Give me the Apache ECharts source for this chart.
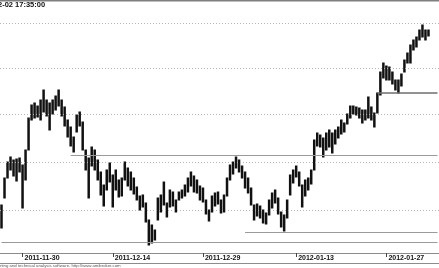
<!DOCTYPE html>
<html><head><meta charset="utf-8">
<script src="https://cdn.jsdelivr.net/npm/echarts@6/dist/echarts.min.js"></script>
<style>html,body{margin:0;padding:0;background:#fff;overflow:hidden}#c{width:439px;height:268px}</style>
</head><body><div id="c"></div>
<script>
const highs = [1039,1066,1082,1087,1084,1085,1086,1079,1094,1126,
1139,1141,1138,1144,1154,1144,1141,1144,1148,1154,
1144,1137,1124,1117,1107,1129,1132,1122,1094,1086,
1097,1094,1084,1072,1059,1074,1081,1069,1074,1064,
1066,1082,1076,1072,1066,1057,1048,1049,1041,1024,
1019,1014,1046,1049,1062,1041,1054,1052,1044,1052,
1054,1059,1066,1072,1068,1064,1058,1056,1044,1034,
1048,1051,1052,1044,1049,1066,1079,1082,1087,1084,
1078,1072,1066,1056,1039,1040,1038,1034,1031,1044,
1051,1054,1046,1032,1029,1044,1069,1074,1078,1072,
1059,1064,1066,1074,1104,1111,1109,1106,1111,1114,
1111,1114,1117,1124,1121,1130,1138,1138,1137,1136,
1134,1134,1147,1137,1131,1151,1172,1181,1178,1177,
1172,1164,1164,1170,1184,1191,1199,1204,1207,1214,
1219,1214,1214];
const lows = [1016,1046,1066,1074,1068,1063,1072,1036,1064,1094,
1124,1126,1127,1124,1132,1128,1114,1130,1134,1138,
1128,1118,1107,1098,1092,1112,1118,1094,1074,1046,
1078,1074,1064,1049,1038,1054,1062,1037,1054,1047,
1048,1064,1058,1054,1050,1044,1034,1037,1022,999,
1001,1004,1024,1032,1039,1027,1037,1038,1032,1044,
1046,1048,1052,1058,1052,1051,1044,1042,1030,1023,
1032,1038,1040,1031,1032,1048,1064,1070,1076,1072,
1066,1056,1051,1039,1024,1028,1026,1021,1020,1029,
1036,1041,1030,1017,1013,1026,1049,1061,1067,1058,
1037,1048,1054,1060,1074,1098,1097,1087,1094,1097,
1091,1100,1106,1110,1112,1120,1126,1130,1129,1126,
1121,1124,1126,1124,1117,1131,1149,1166,1164,1164,
1160,1154,1151,1158,1172,1181,1181,1194,1197,1204,
1207,1204,1208];
const barCount = 146;
const tickIndex = [7, 37, 67, 98, 128];
const tickLabels = ['2011-11-30', '2011-12-14', '2011-12-29', '2012-01-13', '2012-01-27'];
const gridLevels = [1034, 1082, 1130, 1176, 1221];
const levelValues = [1002, 1089, 1012, 1151];
const levelStart = [0, 23, 81, 125];
const titleText = '2-02 17:35:00';
const footerText = 'rting and technical analysis software. http://www.amibroker.com';

const categories = [];
for (let i = 0; i < barCount; i++) categories.push(String(i));
const barData = highs.map((h, i) => [i, lows[i], h]);
const showTick = (idx) => tickIndex.indexOf(idx) >= 0;

const markData = gridLevels.map(v => ({ yAxis: v, lineStyle: { color: '#b4b4b4', type: [1, 2], width: 1 } }));
levelValues.forEach((v, k) => {
  markData.push([
    { coord: [levelStart[k], v], lineStyle: { color: k === 3 ? '#6e6e6e' : '#9a9a9a', width: k === 3 ? 1.6 : 1.2, type: 'solid' } },
    { coord: [barCount - 1, v] }
  ]);
});

const chart = echarts.init(document.getElementById('c'), null, { renderer: 'canvas' });
chart.setOption({
  animation: false,
  backgroundColor: '#fff',
  grid: { left: 0, right: 0, top: 1, bottom: 15, containLabel: false },
  xAxis: {
    type: 'category', data: categories, boundaryGap: true,
    axisLine: { show: true, lineStyle: { color: '#8c8c8c', width: 1 } },
    axisTick: { show: true, interval: (i) => showTick(i), alignWithLabel: true, length: 4, lineStyle: { color: '#444' } },
    axisLabel: {
      interval: (i) => showTick(i), formatter: (v, i) => tickLabels[tickIndex.indexOf(i)] || '',
      align: 'left', margin: 2, padding: [0, 0, 0, 2], fontSize: 7, fontWeight: 'bold', color: '#111',
      fontFamily: 'Liberation Sans, Arial, sans-serif'
    },
    splitLine: { show: false }
  },
  yAxis: { type: 'value', min: 991, max: 1243, show: false, splitLine: { show: false } },
  series: [{
    type: 'custom',
    data: barData,
    encode: { x: 0, y: [1, 2] },
    renderItem: (params, api) => {
      const a = api.coord([api.value(0), api.value(1)]);
      const b = api.coord([api.value(0), api.value(2)]);
      return { type: 'line', shape: { x1: a[0], y1: a[1] + 0.5, x2: b[0], y2: b[1] - 0.5 }, style: { stroke: '#111', lineWidth: 2.5 } };
    },
    markLine: { silent: true, symbol: ['none', 'none'], label: { show: false }, data: markData },
    z: 3
  }],
  graphic: [
    { type: 'rect', shape: { x: 0, y: 0, width: 439, height: 1.5 }, style: { fill: '#808080' } },
    { type: 'line', shape: { x1: 0, y1: 263.5, x2: 439, y2: 263.5 }, style: { stroke: '#8c8c8c', lineWidth: 1 } },
    { type: 'text', left: -2, top: 1, style: { text: titleText, font: 'bold 7.5px Liberation Sans, Arial, sans-serif', fill: '#111' } },
    { type: 'text', left: 0, top: 264, style: { text: footerText, font: '4.3px Liberation Sans, Arial, sans-serif', fill: '#555' } }
  ]
});
</script></body></html>
